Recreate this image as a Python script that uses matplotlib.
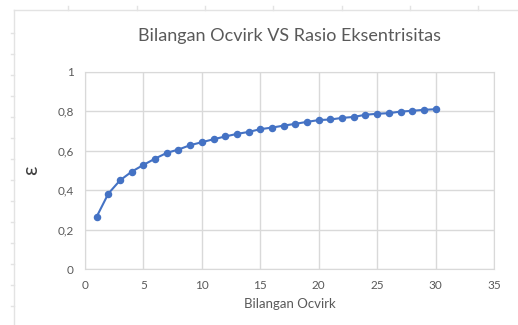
import matplotlib.pyplot as plt
from matplotlib.lines import Line2D

# data
ocvirk = list(range(1, 31))
eps = [0.265, 0.382, 0.449, 0.493, 0.527, 0.559, 0.588, 0.605, 0.627, 0.642,
       0.657, 0.671, 0.684, 0.694, 0.708, 0.716, 0.726, 0.735, 0.745, 0.754,
       0.757, 0.765, 0.770, 0.781, 0.786, 0.789, 0.797, 0.801, 0.806, 0.809]

xticks = [0, 5, 10, 15, 20, 25, 30, 35]
yticks = [0, 0.2, 0.4, 0.6, 0.8, 1]
ytick_labels = ["0", "0,2", "0,4", "0,6", "0,8", "1"]

plt.rcParams['font.family'] = ['Lato', 'DejaVu Sans']
W, H = 518, 325
fig = plt.figure(figsize=(W / 100, H / 100), dpi=100)
ax = fig.add_axes([85 / W, 1 - 269 / H, (494 - 85) / W, (269 - 71.5) / H])

# spreadsheet border behind the chart
edge = '#e3e3e3'
fig.add_artist(Line2D([14 / W, 1], [1 - 10 / H, 1 - 10 / H], color=edge, lw=1))
fig.add_artist(Line2D([14 / W, 14 / W], [0, 1 - 10 / H], color=edge, lw=1))
for cx in [68, 137, 205, 273, 342, 410, 478]:
    fig.add_artist(Line2D([cx / W, cx / W], [1 - 10 / H, 1 - 6 / H], color=edge, lw=1))
for ry in range(33, 325, 21):
    fig.add_artist(Line2D([11 / W, 14 / W], [1 - ry / H, 1 - ry / H], color=edge, lw=1))

ax.plot(ocvirk, eps, color='#4472c4', lw=1.5, marker='o', ms=4.4, zorder=3)

ax.set_xlim(0, 35)
ax.set_ylim(0, 1)
ax.set_xticks(xticks)
ax.set_yticks(yticks)
ax.set_yticklabels(ytick_labels)
ax.grid(True, color='#d9d9d9', lw=1)
ax.set_axisbelow(True)
for s in ax.spines.values():
    s.set_color('#d9d9d9')
ax.tick_params(length=0, labelsize=8.5, colors='#595959', pad=8)

ax.set_title("Bilangan Ocvirk VS Rasio Eksentrisitas", fontsize=13, color='#595959', pad=22, x=0.5)
ax.set_xlabel("Bilangan Ocvirk", fontsize=9.5, color='#595959', labelpad=5)
ax.set_ylabel("ε", fontsize=15, color='#404040', labelpad=12)

fig.savefig("out.png", dpi=100)
